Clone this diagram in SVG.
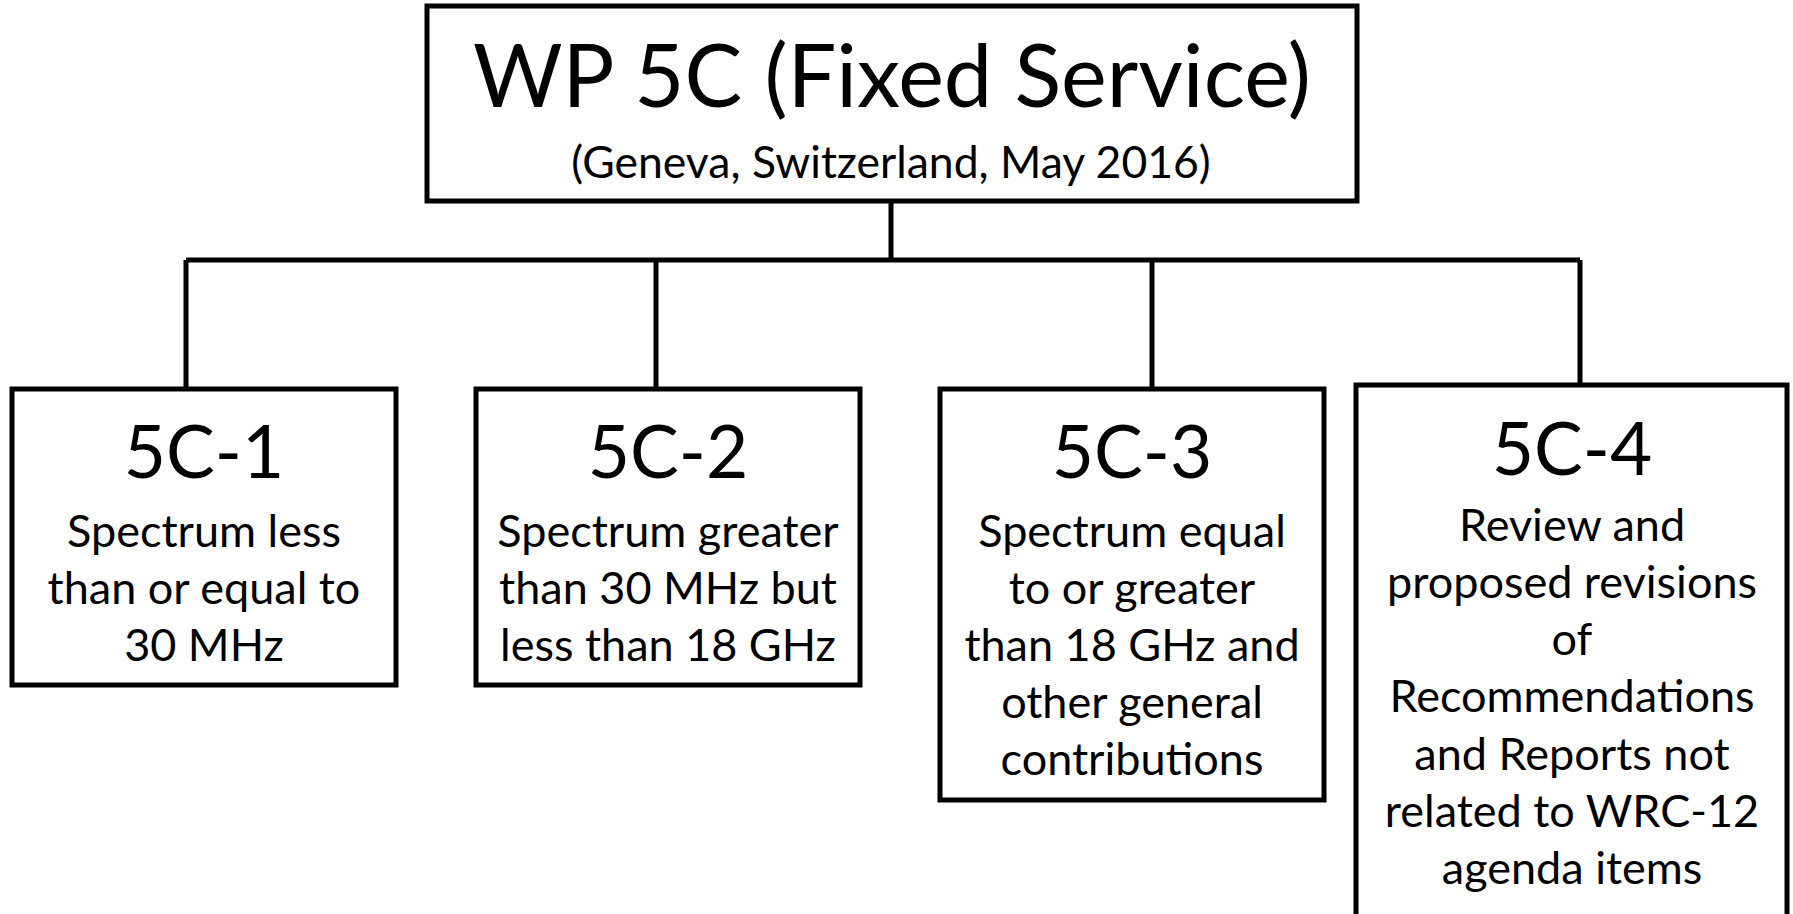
<svg xmlns="http://www.w3.org/2000/svg" width="1793" height="914" viewBox="0 0 1793 914">
<style>
.box{fill:#fff;stroke:#000;stroke-width:5}
.conn{fill:none;stroke:#000;stroke-width:5}
text{font-family:Lato,"Open Sans",sans-serif;fill:#000;text-anchor:middle}
.title{font-size:86.5px}
.sub{font-size:44.5px}
.head{font-size:73px}
.body{font-size:45px}
</style>
<rect width="1793" height="914" fill="#fff"/>
<g id="connectors">
<path class="conn" d="M891,201 V260 M186,260 H1580 M186,260 V389 M656,260 V389 M1152,260 V389 M1580,260 V385"/>
</g>
<g id="wp5c">
<rect class="box" x="427" y="6" width="930" height="195"/>
<text class="title" x="892" y="107">WP 5C (Fixed Service)</text>
<text class="sub" x="891" y="178">(Geneva, Switzerland, May 2016)</text>
</g>
<g id="n5c1">
<rect class="box" x="12" y="389" width="384" height="296"/>
<text class="head" x="204" y="478">5C-1</text>
<text class="body"><tspan x="204" y="547">Spectrum less</tspan><tspan x="204" y="604">than or equal to</tspan><tspan x="204" y="661">30 MHz</tspan></text>
</g>
<g id="n5c2">
<rect class="box" x="476" y="389" width="384" height="296"/>
<text class="head" x="668" y="478">5C-2</text>
<text class="body"><tspan x="668" y="547">Spectrum greater</tspan><tspan x="668" y="604">than 30 MHz but</tspan><tspan x="668" y="661">less than 18 GHz</tspan></text>
</g>
<g id="n5c3">
<rect class="box" x="940" y="389" width="384" height="411"/>
<text class="head" x="1132" y="478">5C-3</text>
<text class="body"><tspan x="1132" y="547">Spectrum equal</tspan><tspan x="1132" y="604">to or greater</tspan><tspan x="1132" y="661">than 18 GHz and</tspan><tspan x="1132" y="718">other general</tspan><tspan x="1132" y="775">contributions</tspan></text>
</g>
<g id="n5c4">
<rect class="box" x="1356" y="385" width="431" height="540"/>
<text class="head" x="1572" y="475">5C-4</text>
<text class="body"><tspan x="1572" y="541">Review and</tspan><tspan x="1572" y="598">proposed revisions</tspan><tspan x="1572" y="655">of</tspan><tspan x="1572" y="712">Recommendations</tspan><tspan x="1572" y="770">and Reports not</tspan><tspan x="1572" y="827">related to WRC-12</tspan><tspan x="1572" y="884">agenda items</tspan></text>
</g>
</svg>
